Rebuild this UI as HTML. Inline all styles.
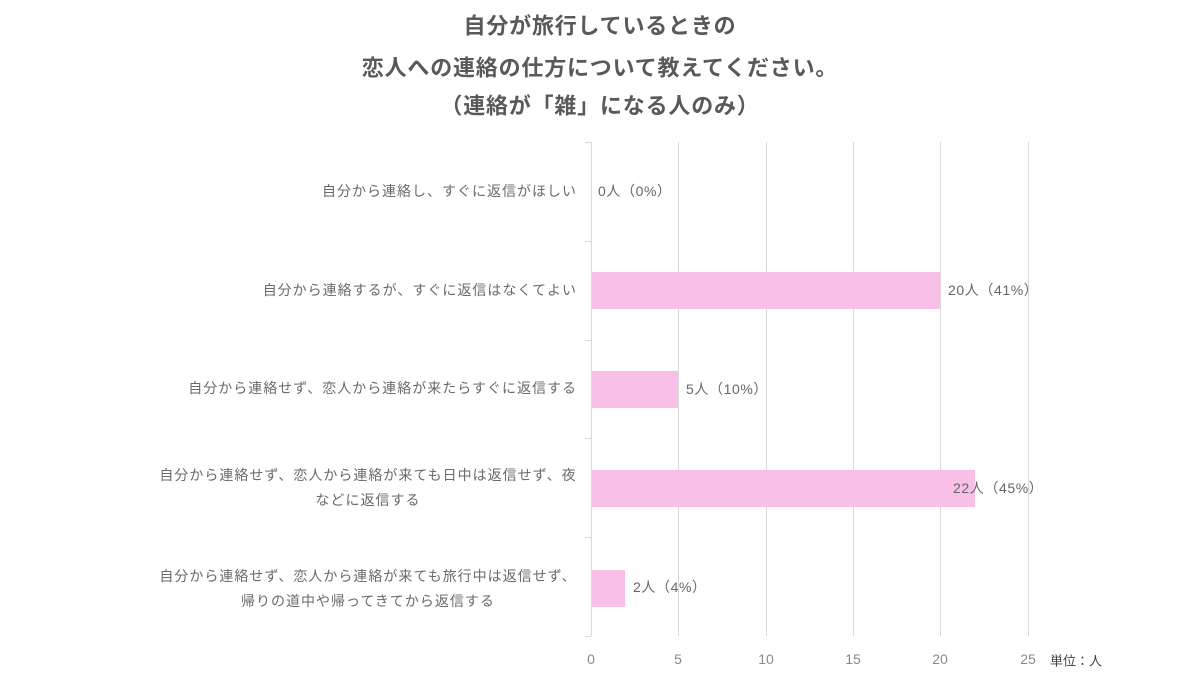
<!DOCTYPE html>
<html><head><meta charset="utf-8"><style>
html,body{margin:0;padding:0;background:#fff;}
svg{display:block;}
text{font-family:"Liberation Sans","Noto Sans CJK JP",sans-serif;}
</style></head><body>
<svg width="1200" height="675" viewBox="0 0 1200 675" xmlns="http://www.w3.org/2000/svg">
<rect width="1200" height="675" fill="#fff"/>
<g font-weight="bold" font-size="22" fill="#595959" text-anchor="middle" letter-spacing="0.8">
<text x="600" y="26" dominant-baseline="central">自分が旅行しているときの</text>
<text x="600" y="68" dominant-baseline="central">恋人への連絡の仕方について教えてください。</text>
<text x="600" y="106" dominant-baseline="central">（連絡が「雑」になる人のみ）</text>
</g>
<g stroke="#d9d9d9" stroke-width="1">
<line x1="678.5" y1="142" x2="678.5" y2="636"/>
<line x1="766.5" y1="142" x2="766.5" y2="636"/>
<line x1="853.5" y1="142" x2="853.5" y2="636"/>
<line x1="940.5" y1="142" x2="940.5" y2="636"/>
<line x1="1028.5" y1="142" x2="1028.5" y2="636"/>
<line x1="591.5" y1="142" x2="591.5" y2="636"/>
<line x1="585" y1="142.5" x2="591" y2="142.5"/>
<line x1="585" y1="241.5" x2="591" y2="241.5"/>
<line x1="585" y1="340.5" x2="591" y2="340.5"/>
<line x1="585" y1="438.5" x2="591" y2="438.5"/>
<line x1="585" y1="537.5" x2="591" y2="537.5"/>
<line x1="585" y1="636.5" x2="591" y2="636.5"/>
</g>
<g fill="#f8bfe7">
<rect x="592" y="272" width="348" height="37"/>
<rect x="592" y="371" width="86" height="37"/>
<rect x="592" y="470" width="383" height="37"/>
<rect x="592" y="570" width="33" height="37"/>
</g>
<g font-size="14" fill="#666666" dominant-baseline="central" letter-spacing="0.6">
<text x="598" y="191">0人（0%）</text>
<text x="948" y="290">20人（41%）</text>
<text x="686" y="389">5人（10%）</text>
<text x="953" y="488">22人（45%）</text>
<text x="633" y="587">2人（4%）</text>
</g>
<g font-size="14" fill="#6a6a6a" letter-spacing="1" dominant-baseline="central">
<text x="577" y="191" text-anchor="end">自分から連絡し、すぐに返信がほしい</text>
<text x="577" y="290" text-anchor="end">自分から連絡するが、すぐに返信はなくてよい</text>
<text x="577" y="388" text-anchor="end">自分から連絡せず、恋人から連絡が来たらすぐに返信する</text>
<text x="368" y="475" text-anchor="middle">自分から連絡せず、恋人から連絡が来ても日中は返信せず、夜</text>
<text x="368" y="500" text-anchor="middle">などに返信する</text>
<text x="368" y="576" text-anchor="middle">自分から連絡せず、恋人から連絡が来ても旅行中は返信せず、</text>
<text x="368" y="601" text-anchor="middle">帰りの道中や帰ってきてから返信する</text>
</g>
<g font-size="14" fill="#8a8a8a" text-anchor="middle" dominant-baseline="central">
<text x="591" y="659">0</text>
<text x="678" y="659">5</text>
<text x="766" y="659">10</text>
<text x="853" y="659">15</text>
<text x="940" y="659">20</text>
<text x="1028" y="659">25</text>
</g>
<text x="1050" y="661" font-size="13" fill="#404040" dominant-baseline="central">単位：人</text>
</svg>
</body></html>
